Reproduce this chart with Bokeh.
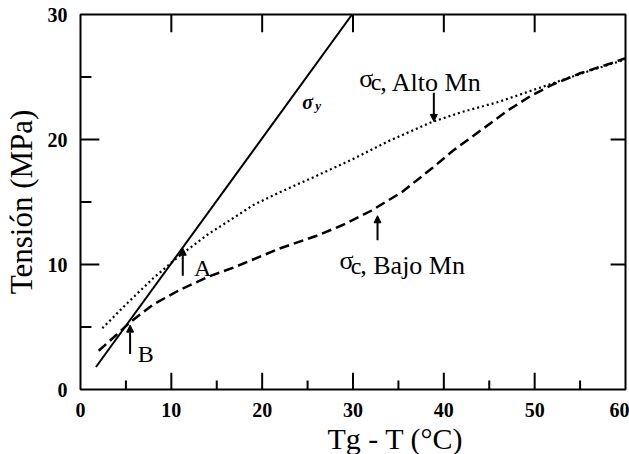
from bokeh.plotting import figure
from bokeh.models import Range1d, LinearAxis, FixedTicker, Label, Arrow, NormalHead, Title
from bokeh.embed import file_html
from bokeh.resources import INLINE

# --- data -----------------------------------------------------------------
# yield stress line (sigma_y)
sigma_y_x = [1.7, 29.9]
sigma_y_y = [1.8, 30.0]

# crazing stress, high Mn (dotted)
alto_x = [2.4, 5.0, 8.0, 10.9, 14.0, 17.0, 19.0, 22.0, 26.0, 29.9, 34.0,
          38.7, 42.0, 46.0, 50.0, 53.2, 56.5, 60.0]
alto_y = [4.9, 6.8, 8.9, 10.7, 12.4, 13.8, 14.75, 15.8, 17.1, 18.4, 19.9,
          21.4, 22.2, 23.0, 24.0, 24.8, 25.6, 26.4]

# crazing stress, low Mn (dashed)
bajo_x = [2.0, 4.0, 5.5, 8.0, 11.0, 14.0, 17.0, 19.0, 22.0, 26.0, 29.0,
          32.0, 35.4, 38.7, 41.0, 44.2, 47.0, 49.6, 52.0, 55.0, 58.0, 60.0]
bajo_y = [3.1, 4.4, 5.4, 6.8, 8.0, 9.0, 9.8, 10.4, 11.3, 12.3, 13.2,
          14.3, 15.8, 17.7, 19.1, 20.8, 22.3, 23.5, 24.4, 25.3, 26.0, 26.5]

# axis ticks
x_ticks = [0, 10, 20, 30, 40, 50, 60]
x_minor = [5, 15, 25, 35, 45, 55]
y_ticks = [0, 10, 20, 30]
y_minor = [5, 15, 25]

SERIF = "Liberation Serif, Times New Roman, serif"

W, H = 629, 454
BL, BR, BT, BB = 76, 4, 14, 62

p = figure(width=W, height=H, output_backend="svg", toolbar_location=None,
           x_range=Range1d(x_ticks[0], x_ticks[-1]),
           y_range=Range1d(y_ticks[0], y_ticks[-1]),
           x_axis_location=None, y_axis_location=None,
           min_border_left=BL, min_border_right=BR,
           min_border_top=BT, min_border_bottom=BB)
p.grid.visible = False
p.background_fill_color = "white"
p.border_fill_color = "white"
# the frame itself
p.outline_line_color = "black"
p.outline_line_width = 2
p.outline_line_alpha = 1.0


def label_axis(ticks, title=""):
    ax = LinearAxis(ticker=FixedTicker(ticks=ticks))
    ax.axis_line_color = None
    ax.major_tick_line_color = None
    ax.minor_tick_line_color = None
    ax.major_label_text_font = SERIF
    ax.major_label_text_font_style = "bold"
    ax.major_label_text_font_size = "20px"
    ax.major_label_text_color = "black"
    ax.major_label_standoff = 7
    if title:
        ax.axis_label = title
        ax.axis_label_text_font = SERIF
        ax.axis_label_text_font_style = "normal"
        ax.axis_label_text_font_size = "31px"
        ax.axis_label_text_color = "black"
        ax.axis_label_standoff = 6
    return ax


p.add_layout(label_axis(x_ticks), "below")
p.add_layout(label_axis(y_ticks, "Tensión (MPa)"), "left")

# x-axis title, sitting a little right of the frame centre
p.add_layout(Title(text="Tg - T (°C)", text_font=SERIF, text_font_size="30px",
                   text_font_style="normal", text_color="black",
                   align="left", offset=247, standoff=0), "below")

# --- curves ---------------------------------------------------------------
p.line(sigma_y_x, sigma_y_y, line_color="black", line_width=2)
p.line(alto_x, alto_y, line_color="black", line_width=2.2, line_dash="2 3")
p.line(bajo_x, bajo_y, line_color="black", line_width=2.5, line_dash="10 5")

# --- inward tick marks (headless arrows, lengths in pixels) --------------
dx = (x_ticks[-1] - x_ticks[0]) / (W - BL - BR)
dy = (y_ticks[-1] - y_ticks[0]) / (H - BT - BB)
ybot, ytop = y_ticks[0], y_ticks[-1]
xl, xr = x_ticks[0], x_ticks[-1]


def tick(x0, y0, x1, y1):
    p.add_layout(Arrow(end=None, x_start=x0, y_start=y0, x_end=x1, y_end=y1,
                       line_color="black", line_width=2))


for t in x_ticks[1:-1]:
    tick(t, ybot, t, ybot + 17 * dy)     # bottom, major
    tick(t, ytop, t, ytop - 18 * dy)     # top
for t in x_minor:
    tick(t, ybot, t, ybot + 9 * dy)      # bottom, minor
for t in y_ticks[1:-1]:
    tick(xl, t, xl + 19 * dx, t)         # left, major
    tick(xr, t, xr - 15 * dx, t)         # right
for t in y_minor:
    tick(xl, t, xl + 11 * dx, t)         # left, minor


# --- annotations ----------------------------------------------------------
def add_arrow(x, y0, y1):
    p.add_layout(Arrow(end=NormalHead(size=7, fill_color="black", line_color="black"),
                       x_start=x, y_start=y0, x_end=x, y_end=y1,
                       line_width=2, line_color="black"))


add_arrow(11.26, 9.1, 11.3)    # A
add_arrow(5.46, 2.85, 5.15)    # B
add_arrow(38.9, 23.75, 21.45)  # high Mn
add_arrow(32.7, 11.95, 13.9)   # low Mn


def add_text(x, y, text, size, style="normal"):
    p.add_layout(Label(x=x, y=y, text=text, text_font=SERIF,
                       text_font_size=size, text_font_style=style,
                       text_color="black", text_baseline="alphabetic",
                       text_align="left"))


add_text(12.5, 9.75, "A", "24px")
add_text(6.3, 2.85, "B", "24px")

# sigma_y
add_text(24.4, 23.0, "σ", "20px", "bold italic")
add_text(25.85, 22.7, "y", "13px", "bold italic")

# sigma_c, high Mn
add_text(30.7, 24.9, "σ", "26px")
add_text(31.95, 24.6, "c", "24px")
add_text(33.0, 24.6, ", Alto Mn", "26px")

# sigma_c, low Mn
add_text(28.5, 10.3, "σ", "26px")
add_text(29.75, 9.9, "c", "24px")
add_text(30.8, 9.9, ", Bajo Mn", "26px")

open("out.html", "w").write(file_html(p, INLINE))
